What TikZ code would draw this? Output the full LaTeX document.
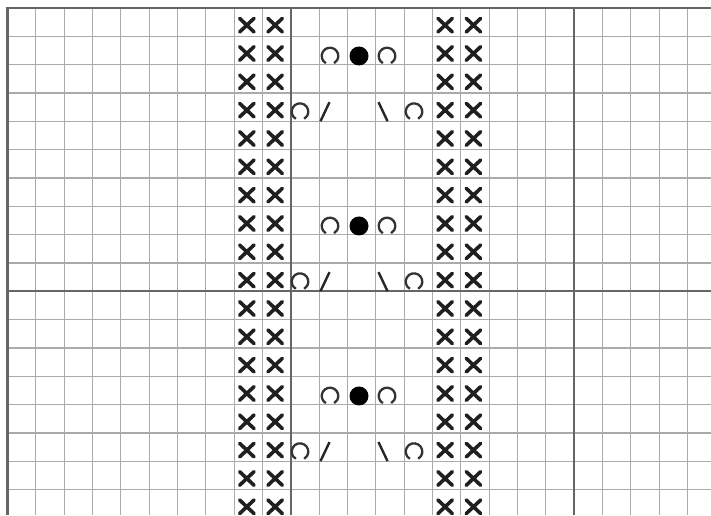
\documentclass[tikz,border=0pt]{standalone}
\begin{document}
\begin{tikzpicture}[x=1pt,y=-1pt,
  gridthin/.style={draw=black!33, line width=1.1pt},
  gridthick/.style={draw=black!60, line width=2.3pt},
  xstitch/.pic={\draw[line width=3.6pt, line cap=round, black!88] (-7.2,-6.8) -- (7.2,6.8) (-7.2,6.8) -- (7.2,-6.8);},
  ring/.pic={\draw[line width=2.3pt, black!80] (120:8.3) arc[start angle=120, end angle=420, radius=8.3];},
  dotfill/.pic={\fill[black] (0,0) circle[radius=9.5];},
  fslash/.pic={\draw[line width=2.4pt, black!85] (-4.5,9.5) -- (4.5,-9.5);},
  bslash/.pic={\draw[line width=2.4pt, black!85] (-4.5,-9.5) -- (4.5,9.5);}
]
\def\ox{7.5}\def\oy{8}\def\cs{28.33}
\fill[white] (0,0) rectangle (711,515);
\useasboundingbox (0,0) rectangle (711,515);
% thin grid
\foreach \k in {1,...,24}{\draw[gridthin] ({\ox+\k*\cs},\oy) -- ({\ox+\k*\cs},515);}
\foreach \k in {1,...,17}{\draw[gridthin] (\ox,{\oy+\k*\cs}) -- (711,{\oy+\k*\cs});}
% thick lines
\draw[gridthick] (\ox,515) -- (\ox,\oy) -- (711,\oy);
\draw[gridthick] ({\ox+10*\cs},\oy) -- ({\ox+10*\cs},515);
\draw[gridthick] ({\ox+20*\cs},\oy) -- ({\ox+20*\cs},515);
\draw[gridthick] (\ox,{\oy+10*\cs}) -- (711,{\oy+10*\cs});
% cross stitches
\foreach \r in {0,...,17}{
  \foreach \c in {8,9,15,16}{
    \pic at ({\ox+(\c+0.5)*\cs-1.5},{\oy+(\r+0.5)*\cs+3}) {xstitch};
  }
}
% motifs
\foreach \r in {1,7,13}{
  \pgfmathsetmacro{\yy}{\oy+(\r+0.5)*\cs+5.5}
  \pic at (330,\yy) {ring};
  \pic at (359,\yy) {dotfill};
  \pic at (387,\yy) {ring};
}
\foreach \r in {3,9,15}{
  \pgfmathsetmacro{\yy}{\oy+(\r+0.5)*\cs+4.5}
  \pic at (300,\yy) {ring};
  \pic at (325,\yy) {fslash};
  \pic at (383,\yy) {bslash};
  \pic at (414,\yy) {ring};
}
\end{tikzpicture}
\end{document}
